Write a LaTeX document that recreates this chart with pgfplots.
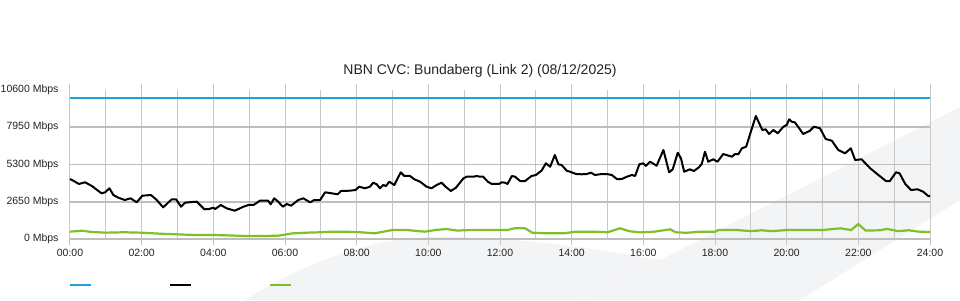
\documentclass[border=0pt]{standalone}
\usepackage{fontspec}
\setmainfont{Liberation Sans}
\usepackage{pgfplots}
\pgfplotsset{compat=1.18}
\usepackage{pgfplotstable}
\definecolor{cblue}{RGB}{27,160,225}
\definecolor{cgreen}{RGB}{125,192,40}
\definecolor{gridc}{RGB}{200,200,200}
\definecolor{gridh}{RGB}{190,190,190}
\definecolor{bgsw}{RGB}{243,244,246}
\definecolor{txt}{RGB}{34,34,34}

\pgfplotstableread{
h v
0 4268
0.14 4077
0.25 3913
0.42 4034
0.61 3770
0.88 3251
0.98 3322
1.10 3607
1.21 3130
1.35 2938
1.53 2774
1.69 2895
1.86 2611
2.02 3080
2.26 3130
2.42 2774
2.60 2255
2.84 2824
2.96 2824
3.10 2298
3.21 2582
3.40 2632
3.54 2654
3.75 2113
3.88 2134
4.00 2227
4.05 2134
4.21 2419
4.37 2184
4.60 2013
4.84 2298
4.98 2419
5.12 2419
5.30 2725
5.53 2725
5.60 2469
5.70 2895
5.81 2654
5.94 2298
6.05 2490
6.17 2369
6.37 2774
6.51 2895
6.70 2611
6.82 2774
6.98 2774
7.12 3322
7.30 3251
7.47 3180
7.56 3415
7.81 3436
7.97 3486
8.07 3721
8.23 3607
8.37 3721
8.46 4005
8.56 3891
8.65 3607
8.74 3841
8.82 3770
8.91 4077
9.05 3841
9.23 4745
9.33 4482
9.49 4482
9.61 4247
9.77 4077
9.95 3721
10.09 3607
10.23 3841
10.37 4005
10.48 3721
10.63 3415
10.77 3650
10.98 4318
11.07 4432
11.26 4432
11.35 4482
11.44 4432
11.53 4432
11.66 4077
11.77 3913
11.97 3913
12.05 4034
12.14 4005
12.21 3913
12.33 4482
12.42 4432
12.56 4126
12.70 4126
12.88 4482
13.00 4553
13.16 4860
13.28 5385
13.40 5143
13.53 5976
13.63 5314
13.72 5264
13.86 4860
14.00 4745
14.12 4624
14.28 4603
14.42 4624
14.54 4717
14.65 4553
14.84 4624
14.98 4624
15.12 4553
15.26 4268
15.40 4268
15.54 4432
15.68 4553
15.77 4482
15.89 5314
16.00 5385
16.07 5200
16.19 5499
16.37 5214
16.56 6331
16.72 4745
16.82 4958
16.96 6140
17.05 5741
17.14 4788
17.30 4958
17.41 4837
17.55 5101
17.63 5336
17.72 6211
17.81 5499
17.95 5670
18.07 5499
18.23 6047
18.47 5855
18.56 6047
18.65 6026
18.75 6452
18.87 6566
19.00 7633
19.14 8750
19.32 7754
19.41 7804
19.51 7470
19.63 7754
19.75 7520
19.91 7989
20.00 8110
20.07 8515
20.14 8345
20.23 8295
20.35 7875
20.46 7470
20.65 7704
20.76 7989
20.93 7875
21.09 7114
21.26 6993
21.44 6331
21.63 6097
21.79 6452
21.91 5620
22.09 5670
22.33 5030
22.56 4553
22.77 4126
22.88 4126
23.05 4745
23.15 4674
23.31 3913
23.47 3486
23.65 3536
23.81 3365
23.95 3059
24.00 3059
}\blackdata

\pgfplotstableread{
h v
0 520
0.33 590
0.6 500
1 450
1.5 480
2 450
2.5 380
3 330
3.5 285
4 285
4.5 250
4.9 213
5.3 213
5.8 230
6.2 400
6.6 450
7.0 480
7.3 520
7.7 520
8.1 480
8.5 405
9.0 640
9.4 640
9.9 520
10.2 640
10.5 711
10.8 600
11.2 640
11.7 640
12.2 640
12.4 760
12.7 760
12.9 450
13.3 405
13.8 405
14.1 520
14.6 520
15.0 480
15.35 760
15.6 560
15.9 470
16.3 520
16.75 690
16.9 480
17.2 440
17.6 520
18.0 520
18.1 640
18.6 640
19.0 560
19.3 620
19.6 560
20.0 640
20.5 640
21.0 640
21.5 760
21.8 640
22.0 1067
22.2 600
22.6 620
22.8 720
23.1 560
23.4 620
23.7 520
24 500
}\greendata

\begin{document}
\begin{tikzpicture}[x=1pt,y=1pt]
\path[use as bounding box] (0,0) rectangle (960,300);
% background swoosh
\fill[bgsw] (245,0) .. controls (300,35) and (370,62) .. (430,63)
   .. controls (520,64) and (600,50) .. (660,40) -- (582,0) -- cycle;
\fill[bgsw] (582,0) -- (960,193) -- (960,100) -- (800,0) -- cycle;
\node[font=\fontsize{14}{16}\selectfont, text=txt] at (480,229) {NBN CVC: Bundaberg (Link 2) (08/12/2025)};
\begin{axis}[
  at={(70pt,61pt)}, anchor=south west, scale only axis,
  width=860pt, height=149pt,
  xmin=0, xmax=24, ymin=0, ymax=10600,
  scaled y ticks=false,
  axis line style={draw=none},
  xtick={0,2,...,24},
  xticklabels={00:00,02:00,04:00,06:00,08:00,10:00,12:00,14:00,16:00,18:00,20:00,22:00,24:00},
  minor xtick={1,3,...,23},
  ytick={0,2650,5300,7950},
  yticklabels={0 Mbps,2650 Mbps,5300 Mbps,7950 Mbps},
  extra y ticks={10600},
  extra y tick labels={10600 Mbps},
  extra y tick style={grid=none},
  xmajorgrids, xminorgrids, ymajorgrids,
  major x grid style={gridc, line width=1pt},
  minor x grid style={gridc, line width=1pt},
  major y grid style={gridh, line width=1.6pt},
  tick align=outside,
  major tick length=6pt, minor tick length=0pt,
  xtick style={gridc, line width=1pt},
  ytick style={draw=none},
  ticklabel style={font=\fontsize{10.5}{12}\selectfont, text=txt},
  /pgf/number format/assume math mode=true,
  xticklabel style={yshift=-1pt},
  yticklabel style={xshift=-2pt},
  clip=false,
]
\addplot[cblue, line width=2pt] coordinates {(0,10000) (24,10000)};
\addplot[cgreen, line width=2.2pt] table[x=h,y=v] {\greendata};
\addplot[black, line width=2pt, line join=round] table[x=h,y=v] {\blackdata};
\end{axis}
\draw[cblue, line width=2pt] (70,15) -- (91,15);
\draw[black, line width=2pt] (170,15) -- (191,15);
\draw[cgreen, line width=2pt] (270,15) -- (291,15);
\end{tikzpicture}
\end{document}
